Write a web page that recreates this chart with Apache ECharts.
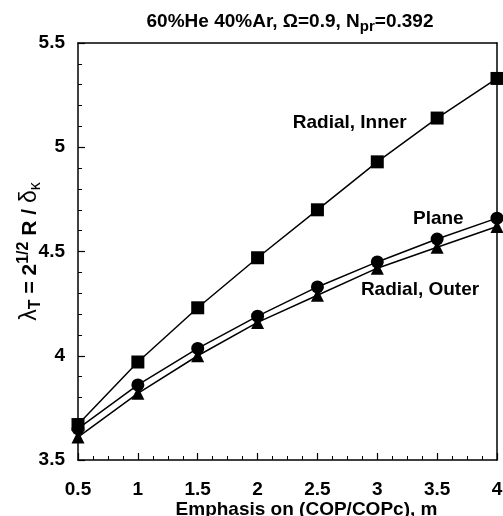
<!DOCTYPE html>
<html>
<head>
<meta charset="utf-8">
<script src="https://cdn.jsdelivr.net/npm/echarts@6/dist/echarts.min.js"></script>
<style>
  html, body { margin: 0; padding: 0; background: #fff; }
  #main { width: 503px; height: 516px; }
</style>
</head>
<body>
<div id="main"></div>
<script>
// emphasis m values
var mValues = [0.5, 1, 1.5, 2, 2.5, 3, 3.5, 4];
// lambda_T for each case
var radialInner = [3.67, 3.97, 4.23, 4.47, 4.70, 4.93, 5.14, 5.33];
var plane = [3.65, 3.86, 4.035, 4.19, 4.33, 4.45, 4.56, 4.66];
var radialOuter = [3.61, 3.82, 4.0, 4.16, 4.29, 4.42, 4.52, 4.62];
// label positions (data space)
var labelInner = [2.77, 5.117];
var labelPlane = [3.51, 4.658];
var labelOuter = [3.357, 4.318];

var font = '"Liberation Sans", Arial, sans-serif';
var chart = echarts.init(document.getElementById('main'), null, { renderer: 'canvas' });

function pairs(ys) {
  return mValues.map(function (x, i) { return [x, ys[i]]; });
}

function tag(name, coord) {
  return {
    symbol: 'none',
    label: { show: false },
    data: [{
      coord: coord,
      symbol: 'circle',
      symbolSize: 0,
      label: {
        show: true,
        position: 'inside',
        formatter: name,
        color: '#000',
        fontFamily: font,
        fontWeight: 'bold',
        fontSize: 19
      }
    }]
  };
}

function lineSeries(name, ys, symbol, size, coord) {
  return {
    name: name,
    type: 'line',
    data: pairs(ys),
    symbol: symbol,
    symbolSize: size,
    showAllSymbol: true,
    lineStyle: { color: '#000', width: 1.5 },
    itemStyle: { color: '#000', borderWidth: 0 },
    markPoint: tag(name, coord),
    z: 3
  };
}

var axisText = { color: '#000', fontFamily: font, fontWeight: 'bold', fontSize: 19 };

var option = {
  animation: false,
  title: {
    text: '{b|60%He 40%Ar, }{n|Ω}{b|=0.9, N}{sub|pr}{b|=0.392}',
    left: 285,
    textAlign: 'center',
    top: 4,
    textStyle: {
      rich: {
        b: { fontFamily: font, fontWeight: 'bold', fontSize: 19, color: '#000' },
        n: { fontFamily: font, fontSize: 19, color: '#000' },
        sub: { fontFamily: font, fontWeight: 'bold', fontSize: 15, color: '#000', padding: [10, 0, 0, 0] }
      }
    }
  },
  grid: { left: 78, right: 6, top: 43, bottom: 56, outerBoundsMode: 'none', containLabel: false },
  xAxis: [{
    type: 'value',
    min: 0.5,
    max: 4,
    interval: 0.5,
    name: 'Emphasis on (COP/COPc), m',
    nameLocation: 'middle',
    nameMoveOverlap: false,
    nameGap: 40,
    nameTextStyle: Object.assign({ padding: [0, 0, 0, 38] }, axisText),
    axisLine: { show: true, lineStyle: { color: '#000', width: 1.5 } },
    axisTick: { show: true, inside: true, length: 7, lineStyle: { color: '#000', width: 1.2 } },
    minorTick: { show: true, splitNumber: 4, length: 4, lineStyle: { color: '#000', width: 1 } },
    axisLabel: Object.assign({ margin: 20 }, axisText),
    splitLine: { show: false }
  }, {
    type: 'value',
    position: 'top',
    min: 0.5,
    max: 4,
    axisLine: { show: true, lineStyle: { color: '#000', width: 1.5 } },
    axisTick: { show: false },
    axisLabel: { show: false },
    splitLine: { show: false }
  }],
  yAxis: [{
    type: 'value',
    min: 3.5,
    max: 5.5,
    interval: 0.5,
    name: '{g|λ}{sb|T}{b| = 2}{sp|1/2}{b| R / }{g|δ}{sg|κ}',
    nameLocation: 'middle',
    nameMoveOverlap: false,
    nameRotate: 90,
    nameGap: 34,
    nameTextStyle: {
      rich: {
        b: { fontFamily: font, fontWeight: 'bold', fontSize: 21, color: '#000' },
        g: { fontFamily: font, fontSize: 23, color: '#000' },
        sb: { fontFamily: font, fontWeight: 'bold', fontSize: 16, color: '#000', padding: [12, 0, 0, 0] },
        sg: { fontFamily: font, fontSize: 16, color: '#000', padding: [12, 0, 0, 0] },
        sp: { fontFamily: font, fontWeight: 'bold', fontSize: 16, color: '#000', padding: [0, 0, 12, 0] }
      }
    },
    axisLine: { show: true, lineStyle: { color: '#000', width: 1.5 } },
    axisTick: { show: true, inside: true, length: 7, lineStyle: { color: '#000', width: 1.2 } },
    minorTick: { show: true, splitNumber: 5, length: 4, lineStyle: { color: '#000', width: 1 } },
    axisLabel: Object.assign({ margin: 13, formatter: function (v) { return String(v); } }, axisText),
    splitLine: { show: false }
  }, {
    type: 'value',
    position: 'right',
    min: 3.5,
    max: 5.5,
    axisLine: { show: true, lineStyle: { color: '#000', width: 1.5 } },
    axisTick: { show: false },
    axisLabel: { show: false },
    splitLine: { show: false }
  }],
  series: [
    lineSeries('Radial, Inner', radialInner, 'rect', 13, labelInner),
    lineSeries('Plane', plane, 'circle', 13, labelPlane),
    lineSeries('Radial, Outer', radialOuter, 'triangle', 13, labelOuter)
  ]
};

chart.setOption(option);
</script>
</body>
</html>
